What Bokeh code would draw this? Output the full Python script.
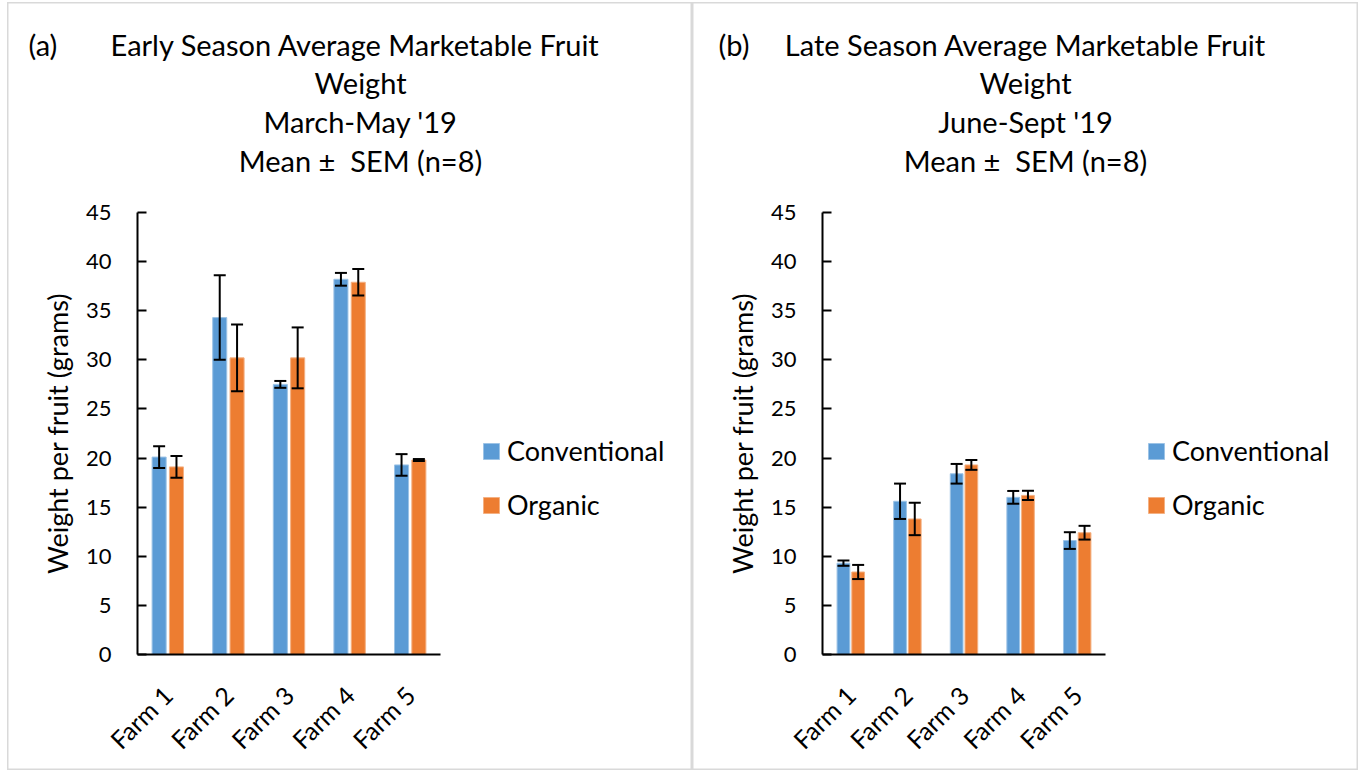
from bokeh.plotting import figure
from bokeh.models import (ColumnDataSource, Range1d, Whisker, TeeHead,
                          Legend, LegendItem, Label, FixedTicker, Spacer)
from bokeh.layouts import row, column
from bokeh.embed import file_html
from bokeh.resources import INLINE

# ---------------- data ----------------
farms = ["Farm 1", "Farm 2", "Farm 3", "Farm 4", "Farm 5"]
series_names = ["Conventional", "Organic"]

early_conv = [20.1, 34.3, 27.5, 38.2, 19.3]
early_conv_sem = [1.1, 4.3, 0.35, 0.65, 1.1]
early_org = [19.1, 30.2, 30.2, 37.9, 19.8]
early_org_sem = [1.1, 3.4, 3.1, 1.35, 0.1]

late_conv = [9.3, 15.6, 18.4, 16.0, 11.6]
late_conv_sem = [0.27, 1.8, 1.0, 0.65, 0.85]
late_org = [8.4, 13.8, 19.3, 16.2, 12.4]
late_org_sem = [0.72, 1.65, 0.5, 0.47, 0.7]

y_ticks = [0, 5, 10, 15, 20, 25, 30, 35, 40, 45]
y_max = 45

letter_a = "(a)"
letter_b = "(b)"
title_a = ["Early Season Average Marketable Fruit", "Weight", "March-May '19",
           "Mean \u00b1\u00a0 SEM (n=8)"]
title_b = ["Late Season Average Marketable Fruit", "Weight", "June-Sept '19",
           "Mean \u00b1\u00a0 SEM (n=8)"]

BLUE = "#5B9BD5"
ORANGE = "#ED7D31"
FONT = "Lato"

H = 768          # figure height (px)
AX_BOTTOM = 652  # pixel row of y = 0 (inside figure)
AX_TOP = 210     # pixel row of y = 45 (inside figure)


def make_panel(letter, lines, conv, conv_sem, org, org_sem, width, ax_left, frame_w,
               title_cx, first_cx, letter_x, legend_x, off, bw):
    n = len(farms)
    xs = list(range(1, n + 1))
    ppu_x = frame_w / n
    ppu_y = (AX_BOTTOM - AX_TOP) / y_max
    x_range = Range1d(0.5 - ax_left / ppu_x, 0.5 + (width - ax_left) / ppu_x)
    y_range = Range1d(-(H - AX_BOTTOM) / ppu_y, AX_BOTTOM / ppu_y)

    p = figure(x_range=x_range, y_range=y_range, width=width, height=H,
               min_border=0, output_backend="svg", toolbar_location=None)
    p.outline_line_color = "#d9d9d9"
    p.outline_line_width = 2
    p.xgrid.grid_line_color = None
    p.ygrid.grid_line_color = None

    src = ColumnDataSource(dict(
        xc=[x - off for x in xs], xo=[x + off for x in xs],
        conv=conv, org=org,
        conv_up=[v + e for v, e in zip(conv, conv_sem)],
        conv_lo=[v - e for v, e in zip(conv, conv_sem)],
        org_up=[v + e for v, e in zip(org, org_sem)],
        org_lo=[v - e for v, e in zip(org, org_sem)],
    ))
    r1 = p.vbar(x="xc", top="conv", width=bw, source=src,
                fill_color=BLUE, line_color="#9cc3e6", line_width=1)
    r2 = p.vbar(x="xo", top="org", width=bw, source=src,
                fill_color=ORANGE, line_color="#f4b183", line_width=1)

    for key, col in (("conv", "xc"), ("org", "xo")):
        w = Whisker(base=col, upper=key + "_up", lower=key + "_lo",
                    source=src, line_color="black", line_width=2, level="overlay",
                    upper_head=TeeHead(size=12, line_width=2, line_color="black"),
                    lower_head=TeeHead(size=12, line_width=2, line_color="black"))
        p.add_layout(w)

    # y axis
    ya = p.yaxis[0]
    ya.fixed_location = 0.5
    ya.bounds = (0, y_max)
    ya.ticker = FixedTicker(ticks=y_ticks)
    ya.major_tick_in = 9
    ya.major_tick_out = 0
    ya.minor_tick_line_color = None
    ya.major_tick_line_width = 2
    ya.axis_line_width = 2
    ya.axis_label = "Weight per fruit (grams)"
    ya.axis_label_text_font = FONT
    ya.axis_label_text_font_size = "27px"
    ya.axis_label_text_font_style = "normal"
    ya.axis_label_text_color = "black"
    ya.axis_label_standoff = 9
    ya.major_label_text_font = FONT
    ya.major_label_text_font_size = "22px"
    ya.major_label_text_color = "black"
    ya.major_label_standoff = 26

    # x axis
    xa = p.xaxis[0]
    xa.fixed_location = 0
    xa.bounds = (0.5, n + 0.5)
    xa.ticker = FixedTicker(ticks=xs)
    xa.major_label_overrides = {x: f for x, f in zip(xs, farms)}
    xa.major_tick_line_color = None
    xa.minor_tick_line_color = None
    xa.axis_line_width = 2
    xa.major_label_orientation = 0.785398
    xa.major_label_text_font = FONT
    xa.major_label_text_font_size = "25px"
    xa.major_label_text_color = "black"
    xa.major_label_standoff = 30

    # title lines
    rows_y = [42, 80, 119, 158]
    for i, t in enumerate(lines):
        cx = first_cx if i == 0 else title_cx
        p.add_layout(Label(x=cx, y=H - rows_y[i], x_units="screen", y_units="screen", text=t,
                           text_align="center", text_baseline="middle",
                           text_font=FONT, text_font_size="29px", text_color="black"))
    p.add_layout(Label(x=letter_x, y=H - rows_y[0], x_units="screen", y_units="screen",
                       text=letter, text_align="left", text_baseline="middle",
                       text_font=FONT, text_font_size="29px", text_color="black"))

    legend = Legend(items=[LegendItem(label=series_names[0], renderers=[r1]),
                           LegendItem(label=series_names[1], renderers=[r2])],
                    location=(legend_x, H - 519), orientation="vertical",
                    glyph_width=20, glyph_height=20, label_height=30,
                    label_text_font=FONT, label_text_font_size="27px",
                    label_text_color="black", label_standoff=6,
                    spacing=21, padding=0, margin=0,
                    border_line_color=None, background_fill_alpha=0)
    p.add_layout(legend, "center")
    return p


pa = make_panel(letter_a, title_a, early_conv, early_conv_sem, early_org, early_org_sem,
                685, 130, 303, 353, 348, 21, 474, 0.143, 0.232)
pb = make_panel(letter_b, title_b, late_conv, late_conv_sem, late_org, late_org_sem,
                666, 130, 283, 333, 333, 26, 454, 0.13, 0.225)

layout = column(Spacer(height=2), row(Spacer(width=7), pa, pb, spacing=0), spacing=0)
open("out.html", "w").write(file_html(layout, INLINE))
